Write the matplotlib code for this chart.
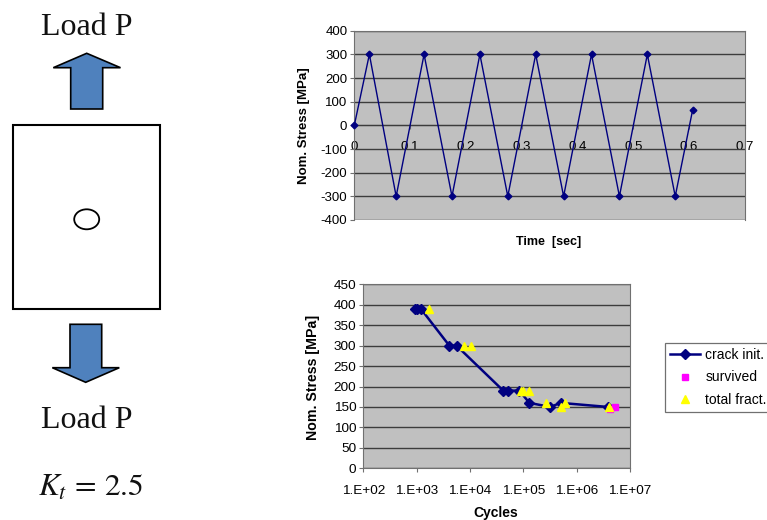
import matplotlib
matplotlib.use("Agg")
import matplotlib.pyplot as plt
from matplotlib.patches import Polygon, Rectangle, Ellipse
from matplotlib.ticker import FixedLocator, FixedFormatter, NullLocator

plt.rcParams['font.family'] = ['Liberation Sans', 'DejaVu Sans']
plt.rcParams['mathtext.fontset'] = 'stix'
plt.rcParams['axes.unicode_minus'] = False

# ---- data ----
time_s = [0, 0.027, 0.075, 0.125, 0.175, 0.225, 0.275, 0.325, 0.375, 0.425, 0.475, 0.525, 0.575, 0.606]
stress_t = [0, 300, -300, 300, -300, 300, -300, 300, -300, 300, -300, 300, -300, 63]
time_ticks = [0, 0.1, 0.2, 0.3, 0.4, 0.5, 0.6, 0.7]
time_labels = ['0', '0.1', '0.2', '0.3', '0.4', '0.5', '0.6', '0.7']

crack_cycles = [920, 1000, 1200, 4100, 5600, 42000, 52000, 84000, 130000, 320000, 500000, 3900000]
crack_stress = [390, 390, 390, 300, 300, 190, 190, 190, 160, 150, 160, 150]
survived_cycles = [4200000, 5200000]
survived_stress = [145, 150]
fract_cycles = [1700, 7800, 10300, 89000, 100000, 130000, 270000, 500000, 600000, 4100000]
fract_stress = [390, 300, 300, 190, 190, 190, 160, 150, 160, 150]
cycle_ticks = [1e2, 1e3, 1e4, 1e5, 1e6, 1e7]
cycle_labels = ['1.E+02', '1.E+03', '1.E+04', '1.E+05', '1.E+06', '1.E+07']

W, H = 767, 520
NAVY = '#000080'
GRID = '#3c3c3c'
PLOT = '#c0c0c0'
EDGE = '#707070'


def axes_px(l, t, r, b, **kw):
    return fig.add_axes([l / W, 1 - b / H, (r - l) / W, (b - t) / H], **kw)


fig = plt.figure(figsize=(W / 100, H / 100), dpi=100, facecolor='white')

# ---- specimen sketch, in pixel coordinates ----
sk = fig.add_axes([0, 0, 1, 1], zorder=0)
sk.set_xlim(0, W)
sk.set_ylim(H, 0)
sk.axis('off')
sk.add_patch(Rectangle((12.7, 124.7), 147.6, 184.3, fc='white', ec='black', lw=1.5))
sk.add_patch(Ellipse((86.7, 219.3), 25, 20, fc='white', ec='black', lw=1.3))
sk.add_patch(Polygon([(86.7, 53.3), (120.5, 67.7), (102.7, 67.7), (102.7, 109), (70.7, 109),
                      (70.7, 67.7), (53.3, 67.7)], closed=True, fc='#4f81bd', ec='black', lw=1.2))
sk.add_patch(Polygon([(70, 324.3), (101.7, 324.3), (101.7, 367.7), (119.3, 367.7), (85.7, 382.3),
                      (52.3, 367.7), (70, 367.7)], closed=True, fc='#4f81bd', ec='black', lw=1.2))
sk.text(87, 35, 'Load P', family='Liberation Serif', fontsize=23, ha='center', va='baseline', color='#111111')
sk.text(87, 428, 'Load P', family='Liberation Serif', fontsize=23, ha='center', va='baseline', color='#111111')
sk.text(91, 495.5, r'$K_t\,=\,2.5$', fontsize=22.5, ha='center', va='baseline', color='#111111')


def style(ax):
    ax.set_facecolor(PLOT)
    ax.set_axisbelow(True)
    ax.grid(axis='y', color=GRID, lw=1.0)
    ax.spines['top'].set_color(EDGE)
    ax.spines['right'].set_color(EDGE)
    ax.spines['left'].set_color(EDGE)
    ax.spines['bottom'].set_color(EDGE)
    ax.tick_params(axis='both', length=3, width=0.8, color=EDGE, pad=2)


# ---- stress vs time ----
ax1 = axes_px(354.3, 30.7, 745, 220, zorder=1)
style(ax1)
ax1.plot(time_s, stress_t, color=NAVY, lw=1.0, marker='D', ms=3.4, clip_on=False, zorder=3)
ax1.set_xlim(0, 0.7)
ax1.set_ylim(-400, 400)
ax1.set_yticks(range(-400, 401, 100))
ax1.set_xticks(time_ticks)
ax1.set_xticklabels(time_labels)
ax1.spines['bottom'].set_position(('data', 0))
ax1.spines['bottom'].set_color(GRID)
ax1.tick_params(axis='x', pad=8, labelsize=9.5)
ax1.tick_params(axis='y', labelsize=9.5)
ax1.set_xlabel('Time  [sec]', fontsize=9, fontweight='bold', va='center')
ax1.xaxis.set_label_coords(0.498, -0.116)
ax1.set_ylabel('Nom. Stress [MPa]', fontsize=9.5, fontweight='bold', va='center')
ax1.yaxis.set_label_coords(-0.129, 0.5)

# ---- S-N curve ----
ax2 = axes_px(363.3, 284.3, 630, 468.3, zorder=1)
style(ax2)
ax2.set_xscale('log')
l1, = ax2.plot(crack_cycles, crack_stress, color=NAVY, lw=1.8, marker='D', ms=5.2,
               label='crack init.', zorder=3)
l2, = ax2.plot(survived_cycles, survived_stress, ls='none', marker='s', color='#ff00ff', ms=4.5,
               label='survived', zorder=4)
l3, = ax2.plot(fract_cycles, fract_stress, ls='none', marker='^', color='#ffff00', ms=5.5,
               label='total fract.', zorder=5)
ax2.set_xlim(1e2, 1e7)
ax2.set_ylim(0, 450)
ax2.set_yticks(range(0, 451, 50))
ax2.xaxis.set_major_locator(FixedLocator(cycle_ticks))
ax2.xaxis.set_major_formatter(FixedFormatter(cycle_labels))
ax2.xaxis.set_minor_locator(NullLocator())
ax2.tick_params(axis='x', pad=9, labelsize=9.7)
ax2.tick_params(axis='y', labelsize=9.7)
ax2.set_xlabel('Cycles', fontsize=10, fontweight='bold', va='center')
ax2.xaxis.set_label_coords(0.497, -0.243)
ax2.set_ylabel('Nom. Stress [MPa]', fontsize=10.2, fontweight='bold', va='center')
ax2.yaxis.set_label_coords(-0.189, 0.496)

leg = fig.legend(handles=[l1, l2, l3], loc='upper left', bbox_to_anchor=(665 / W, 1 - 343 / H),
                 borderaxespad=0, fontsize=10, fancybox=False, framealpha=1, edgecolor=EDGE,
                 handlelength=2.2, handletextpad=0.35, labelspacing=0.62, borderpad=0.35)
leg.get_frame().set_linewidth(0.9)

fig.savefig('out.png', dpi=100, facecolor='white')
